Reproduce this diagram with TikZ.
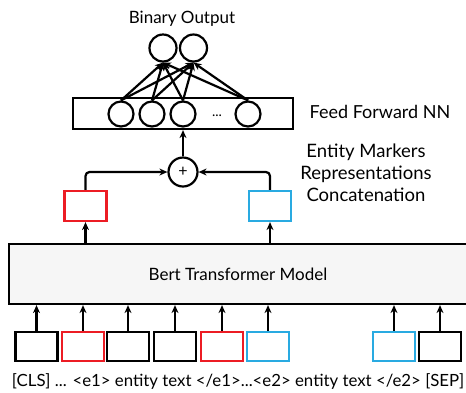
\documentclass[tikz,border=0pt]{standalone}
\usepackage{fontspec}
\setmainfont{Lato}
\usetikzlibrary{arrows.meta}
\definecolor{myred}{RGB}{236,28,36}
\definecolor{myblue}{RGB}{41,170,225}
\begin{document}
\begin{tikzpicture}[x=1pt,y=-1pt,
  lw/.style={line width=2.2pt},
  arr/.style={lw,-{Stealth[length=8pt,width=7pt]}},
  tok/.style={lw,draw,minimum width=42pt,minimum height=29pt,inner sep=0pt},
  rep/.style={lw,draw,minimum width=42pt,minimum height=30pt,inner sep=0pt},
  hid/.style={lw,draw,circle,minimum size=25pt,inner sep=0pt},
  outn/.style={lw,draw,circle,minimum size=27pt,inner sep=0pt},
  lbl/.style={inner sep=0pt}]
\clip (0,0) rectangle (466,392);
\useasboundingbox (0,0) rectangle (466,392);
% Bert
\node[lw,draw,fill=gray!7,minimum width=461pt,minimum height=60pt,inner sep=0pt] (bert) at (239.5,274) {};
\node[lbl,font=\fontsize{17}{20}\selectfont] (berttxt) at (238,274) {Bert Transformer Model};
% tokens
\node[tok] (t1) at (36.5,346.5) {};
\node[tok,draw=myred] (t2) at (83,346.5) {};
\node[tok] (t3) at (128,346.5) {};
\node[tok] (t4) at (175,346.5) {};
\node[tok,draw=myred] (t5) at (222,346.5) {};
\node[tok,draw=myblue] (t6) at (268,346.5) {};
\node[tok,draw=myblue] (t7) at (394,346.5) {};
\node[tok] (t8) at (440,346.5) {};
\foreach \t in {t1,t2,t3,t4,t5,t6,t7,t8}
  \draw[arr] (\t.north) -- (\t.north |- bert.south);
\node[lbl,font=\fontsize{16.8}{19}\selectfont] (seq) at (238,381) {[CLS] ... <e1> entity text </e1>...<e2> entity text </e2> [SEP]};
% representations
\node[rep,draw=myred] (rr) at (85.5,206) {};
\node[rep,draw=myblue] (rb) at (270,206) {};
\draw[arr] (rr.south |- bert.north) -- (rr.south);
\draw[arr] (rb.south |- bert.north) -- (rb.south);
\node[lw,draw,circle,minimum size=29pt,inner sep=0pt,font=\fontsize{16}{16}\selectfont] (plus) at (183,172) {+};
\draw[arr,rounded corners=4pt] (rr.north) |- (plus.west);
\draw[arr,rounded corners=4pt] (rb.north) |- (plus.east);
% FFNN
\node[lw,draw,minimum width=220pt,minimum height=31pt,inner sep=0pt] (ffnn) at (183,113.5) {};
\draw[arr] (plus.north) -- (ffnn.south);
\node[hid] (h1) at (121,114) {};
\node[hid] (h2) at (152,114) {};
\node[hid] (h3) at (183,114) {};
\node[hid] (h4) at (248,114) {};
\node[lbl,font=\fontsize{14}{14}\selectfont] (dots) at (217,116) {...};
% outputs
\node[outn] (o1) at (163,48) {};
\node[outn] (o2) at (193.5,48) {};
\foreach \h in {h1,h2,h3,h4}
  \foreach \o in {o1,o2}
    \draw[arr] (\h.north) -- (\o.south);
% labels
\node[lbl,font=\fontsize{17}{20}\selectfont] (binlbl) at (182,19) {Binary Output};
\node[lbl,font=\fontsize{18}{20}\selectfont] (fflbl) at (380,112) {Feed Forward NN};
\node[lbl,align=center,font=\fontsize{18.5}{22}\selectfont] (emlbl) at (366,173) {Entity Markers\\Representations\\Concatenation};
\end{tikzpicture}
\end{document}
